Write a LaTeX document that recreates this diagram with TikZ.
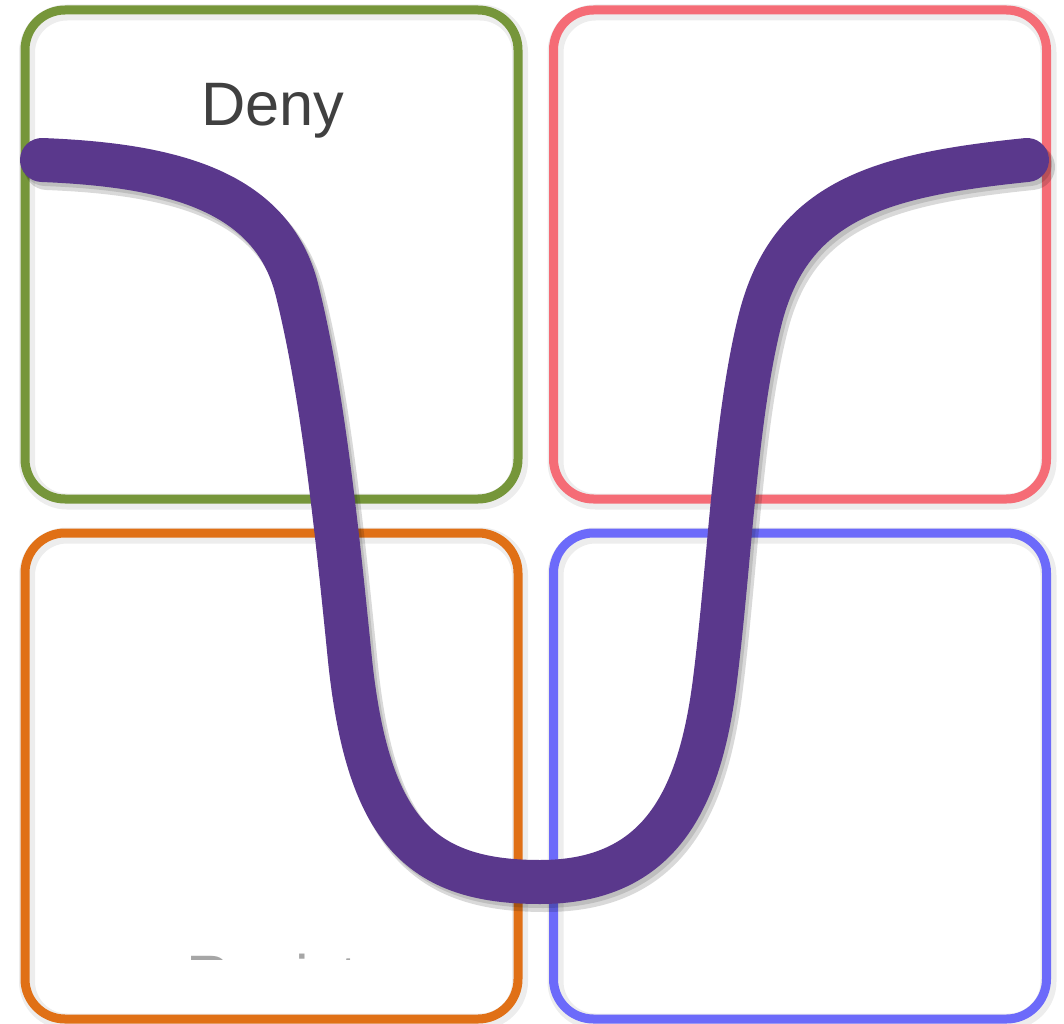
\documentclass[tikz,border=0pt]{standalone}
\usepackage{fontspec}
\setmainfont{Liberation Sans}
\definecolor{cgreen}{RGB}{118,150,58}
\definecolor{cred}{RGB}{245,108,118}
\definecolor{corange}{RGB}{224,112,22}
\definecolor{cblue}{RGB}{108,106,250}
\definecolor{cpurple}{RGB}{90,56,140}
\definecolor{ctext}{RGB}{64,64,64}
\tikzset{
  quad/.style={rounded corners=30pt, line width=6.75pt, minimum width=369.75pt, inner sep=0pt, outer sep=0pt},
  quadshadow/.style={rounded corners=30pt, line width=12pt, draw=black, draw opacity=0.07, minimum width=369.75pt, inner sep=0pt, outer sep=0pt},
  lbl/.style={text=ctext, font=\fontsize{46}{50}\selectfont, inner sep=0pt}
}
\def\curvepath{(42,160) .. controls (170,165) and (272,190) .. (297,290)
  .. controls (322,390) and (336,520) .. (350,660)
  .. controls (368,830) and (420,882) .. (540,882)
  .. controls (660,882) and (700,800) .. (715,680)
  .. controls (730,560) and (735,420) .. (760,320)
  .. controls (790,200) and (880,175) .. (1027,160)}
\begin{document}
\begin{tikzpicture}[x=0.75pt,y=-0.75pt]
\useasboundingbox (0,0) rectangle (1064,1024);
\fill[white] (0,0) rectangle (1064,1024);
% shadows of boxes
\node[quadshadow, minimum height=366.75pt] (sg) at (273.5,257) {};
\node[quadshadow, minimum height=366.75pt] (sr) at (802,257) {};
\node[quadshadow, minimum height=364.5pt] (so) at (273.5,778.5) {};
\node[quadshadow, minimum height=364.5pt] (sb) at (802,778.5) {};
% boxes
\node[quad, draw=cgreen, minimum height=366.75pt] (deny) at (271.5,254.5) {};
\node[quad, draw=cred, minimum height=366.75pt] (tr) at (800,254.5) {};
\node[quad, draw=corange, minimum height=364.5pt] (bl) at (271.5,776) {};
\node[quad, draw=cblue, minimum height=364.5pt] (br) at (800,776) {};
% labels
\node[lbl, anchor=base] (denytxt) at (273,125) {Deny};
\begin{scope}
\clip (150,952) rectangle (400,959);
\node[lbl, anchor=base, text=black!35] (resisttxt) at (272,998) {Resist};
\end{scope}
% curve shadow
\draw[line width=34.5pt, line cap=round, draw=black, draw opacity=0.15, shift={(5,7)}] \curvepath;
\draw[line width=33pt, line cap=round, draw=black, draw opacity=0.12, shift={(3,4)}] \curvepath;
% curve
\draw[line width=33pt, line cap=round, draw=cpurple] \curvepath;
\end{tikzpicture}
\end{document}
